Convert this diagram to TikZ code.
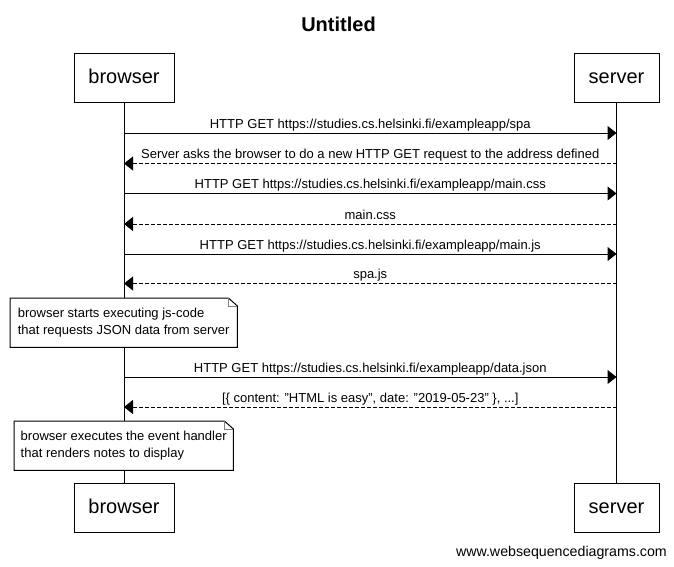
\documentclass[tikz,border=0pt]{standalone}
\usepackage{fontspec}
\setmainfont{Liberation Sans}
\usetikzlibrary{arrows.meta,positioning}

\tikzset{
  actor/.style={draw, line width=1pt, minimum height=49pt, inner sep=0pt,
    text height=15pt, text depth=3pt, font=\fontsize{20}{24}\selectfont},
  msg/.style={line width=1pt, -{Triangle[length=9pt,width=14pt]}},
  reply/.style={msg, dash pattern=on 4pt off 2pt},
  lbl/.style={font=\fontsize{13}{16}\selectfont, anchor=base, inner sep=0pt, yshift=5pt},
  notebox/.style={fill=white, minimum height=49pt, inner sep=0pt,
    align=left, font=\fontsize{13}{16.5}\selectfont},
}

\begin{document}
\begin{tikzpicture}[x=1pt,y=-1pt]
  \useasboundingbox (0,0) rectangle (674,566);

  % Title
  \node[font=\bfseries\fontsize{20}{24}\selectfont, anchor=base] (title) at (338.5,31) {Untitled};

  % Participants
  \node[actor, minimum width=100pt] (browserTop) at (124,77.5) {browser};
  \node[actor, minimum width=85pt] (serverTop) at (616.5,77.5) {server};
  \node[actor, minimum width=100pt] (browserBot) at (124,507.5) {browser};
  \node[actor, minimum width=85pt] (serverBot) at (616.5,507.5) {server};

  % Lifelines
  \draw[line width=1pt] (browserTop) -- (browserBot);
  \draw[line width=1pt] (serverTop) -- (serverBot);

  % Message points
  \foreach \i/\y in {1/133,2/163.5,3/193.5,4/224,5/254,6/283.5,7/377,8/407} {
    \coordinate (b\i) at (124,\y);
    \coordinate (s\i) at (616.5,\y);
  }

  % Messages
  \draw[msg] (b1) -- (s1) node[lbl, midway] {HTTP GET https://studies.cs.helsinki.fi/exampleapp/spa};
  \draw[reply] (s2) -- (b2) node[lbl, midway] {Server asks the browser to do a new HTTP GET request to the address defined};
  \draw[msg] (b3) -- (s3) node[lbl, midway] {HTTP GET https://studies.cs.helsinki.fi/exampleapp/main.css};
  \draw[reply] (s4) -- (b4) node[lbl, midway] {main.css};
  \draw[msg] (b5) -- (s5) node[lbl, midway] {HTTP GET https://studies.cs.helsinki.fi/exampleapp/main.js};
  \draw[reply] (s6) -- (b6) node[lbl, midway] {spa.js};
  \draw[msg] (b7) -- (s7) node[lbl, midway] {HTTP GET https://studies.cs.helsinki.fi/exampleapp/data.json};
  \draw[reply] (s8) -- (b8) node[lbl, midway] {[\{ content: "HTML is easy", date: "2019-05-23" \}, ...]};

  % Notes
  \node[notebox, minimum width=227pt, anchor=north west] (note1) at (10,298)
    {browser starts executing js-code\\that requests JSON data from server};
  \draw[line width=1pt] ([xshift=-9pt]note1.north east) -- (note1.north west) -- (note1.south west)
    -- (note1.south east) -- ([yshift=-8pt]note1.north east) -- cycle;
  \draw[gray, line width=1pt] ([xshift=-9pt]note1.north east) |- ([yshift=-8pt]note1.north east);

  \node[notebox, minimum width=219pt, anchor=north west] (note2) at (14,421)
    {browser executes the event handler\\that renders notes to display};
  \draw[line width=1pt] ([xshift=-9pt]note2.north east) -- (note2.north west) -- (note2.south west)
    -- (note2.south east) -- ([yshift=-8pt]note2.north east) -- cycle;
  \draw[gray, line width=1pt] ([xshift=-9pt]note2.north east) |- ([yshift=-8pt]note2.north east);

  % Footer
  \node[font=\fontsize{14.2}{17}\selectfont, anchor=base east, inner sep=0pt] (footer) at (667,556) {www.websequencediagrams.com};

\end{tikzpicture}
\end{document}
